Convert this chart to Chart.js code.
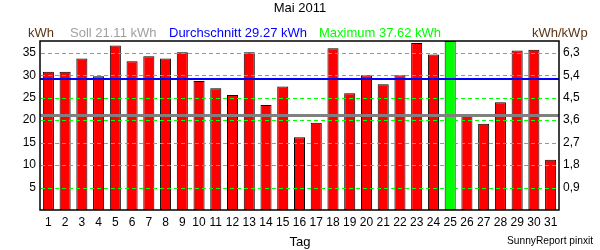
<!DOCTYPE html>
<html>
<head>
<meta charset="utf-8">
<script src="https://cdn.jsdelivr.net/npm/chart.js@4/dist/chart.umd.min.js"></script>
<style>
  html, body { margin: 0; padding: 0; background: #fff; }
  #wrap { position: relative; width: 600px; height: 250px; overflow: hidden; font-family: "Liberation Sans", Arial, sans-serif; }
  #c { position: absolute; left: 0; top: 0; }
  .t { position: absolute; white-space: nowrap; line-height: 1; }
</style>
</head>
<body>
<div id="wrap">
  <canvas id="c" width="600" height="250"></canvas>
  <div class="t" id="title" style="left:0;width:600px;text-align:center;top:1px;font-size:13px;color:#000;"></div>
  <div class="t" id="unitL" style="left:28px;top:26px;font-size:13px;color:#5c3312;"></div>
  <div class="t" id="soll" style="left:70px;top:26px;font-size:13px;color:#a0a0a0;"></div>
  <div class="t" id="avg" style="left:169px;top:26px;font-size:13px;color:#0000ff;"></div>
  <div class="t" id="max" style="left:319px;top:26px;font-size:13px;color:#00ff00;"></div>
  <div class="t" id="unitR" style="left:532px;top:26px;font-size:13px;color:#5c3312;"></div>
  <div class="t" id="xTitle" style="left:0;width:600px;text-align:center;top:235px;font-size:13px;color:#000;"></div>
  <div class="t" id="credit" style="left:507px;top:236px;font-size:10.2px;color:#000;"></div>
</div>
<script>
// ---- data ----
const titleText = "Mai 2011";
const days = ["1","2","3","4","5","6","7","8","9","10","11","12","13","14","15","16","17","18","19","20","21","22","23","24","25","26","27","28","29","30","31"];
const dailyKWh = [30.8,30.8,33.7,29.8,36.6,33.1,34.2,33.7,35.1,28.7,27.1,25.6,35.1,23.4,27.5,16.2,19.4,36.0,26.0,30.0,28.0,30.0,37.2,34.6,37.62,21.1,19.2,24.0,35.5,35.7,11.2];
const sollKWh = 21.11;
const avgKWh = 29.27;
const maxKWh = 37.62;
const leftTicks = [5,10,15,20,25,30,35];
const rightTickLabels = ["0,9","1,8","2,7","3,6","4,5","5,4","6,3"];
const unitLeft = "kWh";
const unitRight = "kWh/kWp";
const xTitleText = "Tag";
const creditText = "SunnyReport pinxit";

// ---- texts ----
document.getElementById('title').textContent = titleText;
document.getElementById('unitL').textContent = unitLeft;
document.getElementById('unitR').textContent = unitRight;
document.getElementById('soll').textContent = "Soll " + sollKWh.toFixed(2) + " kWh";
document.getElementById('avg').textContent = "Durchschnitt " + avgKWh.toFixed(2) + " kWh";
document.getElementById('max').textContent = "Maximum " + maxKWh.toFixed(2) + " kWh";
document.getElementById('xTitle').textContent = xTitleText;
document.getElementById('credit').textContent = creditText;

const barColors = dailyKWh.map(v => v === maxKWh ? '#00ff00' : '#ff0000');

const overlay = {
  id: 'overlay',
  afterDatasetsDraw(chart) {
    const ctx = chart.ctx, a = chart.chartArea, y = chart.scales.y;
    ctx.save();
    // dashed green grid, drawn as crisp 1px dashes
    ctx.fillStyle = '#00ff00';
    const L = Math.round(a.left), R = Math.round(a.right);
    leftTicks.forEach(v => {
      const py = Math.round(y.getPixelForValue(v));
      for (let x = L + 1; x < R; x += 7) {
        ctx.fillRect(x, py, Math.min(4, R - x), 1);
      }
    });
    // Soll line
    ctx.fillStyle = '#808080';
    let py = Math.round(y.getPixelForValue(sollKWh));
    ctx.fillRect(L, py - 1, R - L, 3);
    // Average line
    ctx.fillStyle = '#0000ff';
    py = Math.round(y.getPixelForValue(avgKWh));
    ctx.fillRect(L, py - 1, R - L, 2);
    // frame
    ctx.strokeStyle = '#000';
    ctx.lineWidth = 1.5;
    ctx.strokeRect(a.left, a.top, a.right - a.left, a.bottom - a.top);
    ctx.restore();
  }
};

const tickFont = { family: '"Liberation Sans", Arial, sans-serif', size: 12 };

new Chart(document.getElementById('c'), {
  type: 'bar',
  data: {
    labels: days,
    datasets: [{
      data: dailyKWh,
      backgroundColor: barColors,
      borderColor: '#000',
      borderWidth: 1,
      borderSkipped: false,
      barPercentage: 0.66,
      categoryPercentage: 1.0
    }]
  },
  options: {
    responsive: false,
    devicePixelRatio: 1,
    animation: false,
    layout: { padding: { top: 41, left: 0, right: 0, bottom: 0 } },
    plugins: { legend: { display: false }, title: { display: false }, tooltip: { enabled: false } },
    scales: {
      x: {
        grid: { display: false, drawTicks: false },
        border: { display: false },
        ticks: { color: '#000', font: tickFont, padding: 5, maxRotation: 0, autoSkip: false },
        afterFit(s) { s.height = 40; }
      },
      y: {
        position: 'left',
        min: 0, max: maxKWh,
        grid: { display: false, drawTicks: false },
        border: { display: false },
        afterBuildTicks(s) { s.ticks = leftTicks.map(v => ({ value: v })); },
        ticks: { color: '#000', font: tickFont, padding: 4 },
        afterFit(s) { s.width = 40; }
      },
      y1: {
        position: 'right',
        min: 0, max: maxKWh,
        grid: { display: false, drawTicks: false },
        border: { display: false },
        afterBuildTicks(s) { s.ticks = leftTicks.map(v => ({ value: v })); },
        ticks: { color: '#000', font: tickFont, padding: 4,
          callback: (v, i) => rightTickLabels[i] },
        afterFit(s) { s.width = 41; }
      }
    }
  },
  plugins: [overlay]
});
</script>
</body>
</html>
